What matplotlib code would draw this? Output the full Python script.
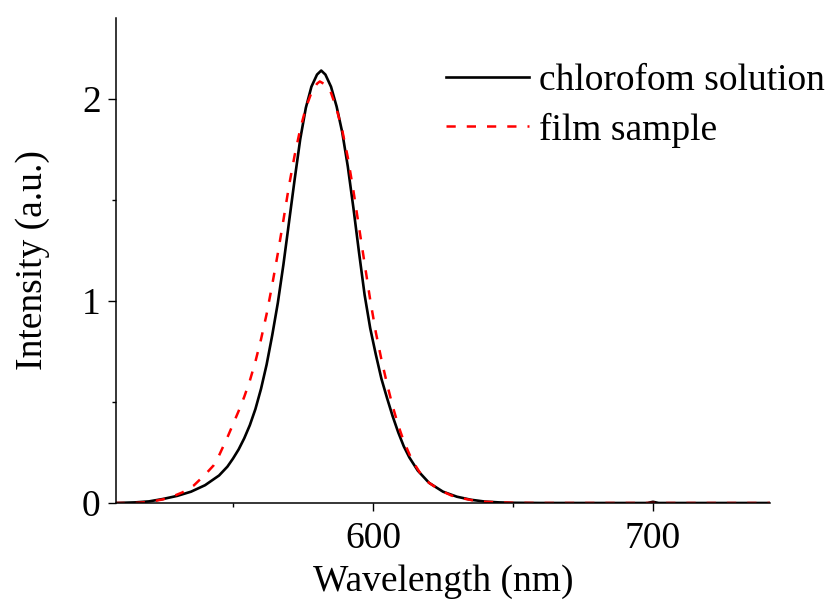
import matplotlib
matplotlib.use("Agg")
import matplotlib.pyplot as plt

plt.rcParams['font.family'] = ['Liberation Serif', 'DejaVu Serif']

# chloroform solution (black solid)
wl_sol = [508, 515, 520, 525, 530, 535, 540, 545, 548, 550, 552, 554, 556, 558,
          560, 562, 564, 566, 568, 570, 572, 574, 576, 578, 580, 581.5, 583,
          585, 587, 589, 591, 593, 595, 597, 599, 601, 603, 605, 607, 609, 611,
          613, 616, 620, 625, 630, 635, 640, 645, 650, 660, 680, 698, 700, 702,
          720, 742]
int_sol = [0.0, 0.003, 0.008, 0.020, 0.035, 0.056, 0.088, 0.136, 0.18, 0.22,
           0.265, 0.32, 0.385, 0.465, 0.565, 0.685, 0.83, 0.99, 1.18, 1.39,
           1.60, 1.80, 1.955, 2.06, 2.12, 2.14, 2.12, 2.06, 1.962, 1.835,
           1.665, 1.46, 1.24, 1.03, 0.865, 0.735, 0.615, 0.52, 0.43, 0.35,
           0.28, 0.225, 0.16, 0.10, 0.056, 0.031, 0.016, 0.007, 0.003, 0.001,
           0.0, 0.0, 0.0, 0.006, 0.0, 0.0, 0.0]

# film sample (red dashed)
wl_film = [508, 515, 518, 522, 525, 528, 532, 536, 540, 543, 545, 548, 550, 552,
           554, 556, 558, 560, 562, 564, 566, 568, 570, 572, 574, 576, 578, 580,
           581, 583, 585, 587, 589, 591, 593, 595, 597, 599, 601, 603, 605, 607,
           609, 611, 614, 617, 620, 624, 628, 632, 636, 640, 650, 660, 700, 742]
int_film = [0.0, 0.0, 0.003, 0.010, 0.018, 0.030, 0.053, 0.087, 0.14, 0.185,
            0.235, 0.325, 0.39, 0.455, 0.525, 0.605, 0.70, 0.81, 0.935, 1.08,
            1.235, 1.40, 1.57, 1.72, 1.85, 1.955, 2.03, 2.075, 2.086, 2.07,
            2.03, 1.95, 1.845, 1.71, 1.545, 1.365, 1.185, 1.005, 0.845, 0.71,
            0.59, 0.48, 0.385, 0.305, 0.21, 0.145, 0.10, 0.063, 0.037, 0.023,
            0.012, 0.006, 0.001, 0.0, 0.0, 0.0]

labels = ['chlorofom solution', 'film sample']
x_major = [600, 700]
x_minor = [550, 650]
y_major = [0, 1, 2]
y_minor = [0.5, 1.5]

FS = 27

fig = plt.figure(figsize=(8.3, 6.03), dpi=100)
ax = fig.add_axes([116/830, 1-503/603, (770-116)/830, (503-18)/603])

ax.plot(wl_sol, int_sol, color='black', lw=1.9, label=labels[0])
ax.plot(wl_film, int_film, color='#ff0000', lw=1.8, dashes=(3.7, 4.4), label=labels[1])

ax.set_xlim(508.2, 741.8)
ax.set_ylim(0, 2.40)
ax.set_xticks(x_major)
ax.set_xticks(x_minor, minor=True)
ax.set_yticks(y_major)
ax.set_yticks(y_minor, minor=True)
ax.set_xticklabels([str(v) for v in x_major])
ax.set_yticklabels([str(v) for v in y_major])

for s in ['top', 'right']:
    ax.spines[s].set_visible(False)
for s in ['left', 'bottom']:
    ax.spines[s].set_linewidth(1.1)

ax.tick_params(which='major', direction='out', length=6, width=1.0, labelsize=FS)
ax.tick_params(axis='x', which='major', pad=7)
ax.tick_params(axis='y', which='major', pad=5)
ax.tick_params(which='minor', direction='out', length=3, width=1.0)

ax.set_xlabel('Wavelength (nm)', fontsize=FS, labelpad=6)
ax.set_ylabel('Intensity (a.u.)', fontsize=FS, labelpad=23)

leg = ax.legend(loc='upper left', bbox_to_anchor=(446/830, 1-64/603),
                bbox_transform=fig.transFigure, frameon=False, fontsize=FS,
                handlelength=2.2, handletextpad=0.27, labelspacing=0.37,
                borderpad=0, borderaxespad=0)

fig.savefig('out.png', dpi=100)
